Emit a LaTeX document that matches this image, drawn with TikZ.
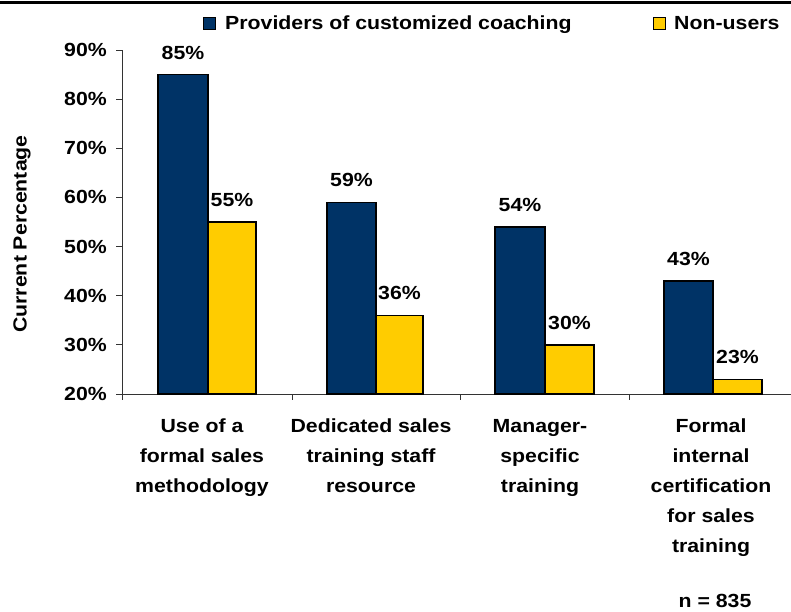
\documentclass[tikz,border=0pt]{standalone}
\usepackage{fontspec}
\setmainfont{Liberation Sans}[FakeStretch=1.12]
\definecolor{navy}{RGB}{0,51,102}
\definecolor{gold}{RGB}{255,204,0}
\begin{document}
\begin{tikzpicture}[x=1pt,y=-1pt,font=\fontsize{19}{30}\selectfont\bfseries,
	bluebar/.style={draw=black,line width=1.5pt,fill=navy},
	yellowbar/.style={draw=black,line width=1.5pt,fill=gold},
	axis/.style={draw=black!80,line width=1pt},
	val/.style={anchor=base,inner sep=0pt},
	cat/.style={anchor=north,align=center,inner sep=0pt}]
	\useasboundingbox (0,0) rectangle (791,611);
	\draw[line width=3pt] (0,2)--(791,2);
	% legend
	\draw[bluebar,line width=1pt] (203,17) rectangle (215,29);
	\node[anchor=base west,inner sep=0pt] (legblue) at (225,29.7) {Providers of customized coaching};
	\draw[yellowbar,line width=1pt] (653,17) rectangle (665,29);
	\node[anchor=base west,inner sep=0pt] (leggold) at (674,29.7) {Non-users};
	% axes
	\draw[axis] (122,50)--(122,400);
	\draw[axis] (122,394)--(791,394);
	\foreach \v in {20,30,...,90}{
		\draw[axis] (116,{394-(\v-20)*4.914})--(122,{394-(\v-20)*4.914});
		\node[anchor=east,inner sep=0pt] (tick\v) at (107,{394-(\v-20)*4.914}) {\v\%};
	}
	\foreach \x in {292,460,629}
		\draw[axis] (\x,394)--(\x,400);
	\node[rotate=90] (ylabel) at (22,234) {Current Percentage};
	% bars
	\draw[bluebar] (158,394) rectangle (208,74.6);
	\draw[yellowbar] (208,394) rectangle (256,222.0);
	\draw[bluebar] (327,394) rectangle (376,202.4);
	\draw[yellowbar] (376,394) rectangle (423,315.4);
	\draw[bluebar] (495,394) rectangle (545,226.9);
	\draw[yellowbar] (545,394) rectangle (594,344.9);
	\draw[bluebar] (664,394) rectangle (713,281.0);
	\draw[yellowbar] (713,394) rectangle (762,379.3);
	% values
	\node[val] (v1a) at (183,59.1) {85\%};
	\node[val] (v1b) at (232,206.5) {55\%};
	\node[val] (v2a) at (351.5,186.9) {59\%};
	\node[val] (v2b) at (399.5,299.9) {36\%};
	\node[val] (v3a) at (520,211.4) {54\%};
	\node[val] (v3b) at (569.5,329.4) {30\%};
	\node[val] (v4a) at (688.5,265.5) {43\%};
	\node[val] (v4b) at (737.5,363.8) {23\%};
	% categories
	\node[cat] (c1) at (202,419) {Use of a\\formal sales\\methodology};
	\node[cat] (c2) at (371,419) {Dedicated sales\\training staff\\resource};
	\node[cat] (c3) at (540,419) {Manager-\\specific\\training};
	\node[cat] (c4) at (711,419) {Formal\\internal\\certification\\for sales\\training};
	\node[val] (n) at (715,607) {n = 835};
\end{tikzpicture}
\end{document}
